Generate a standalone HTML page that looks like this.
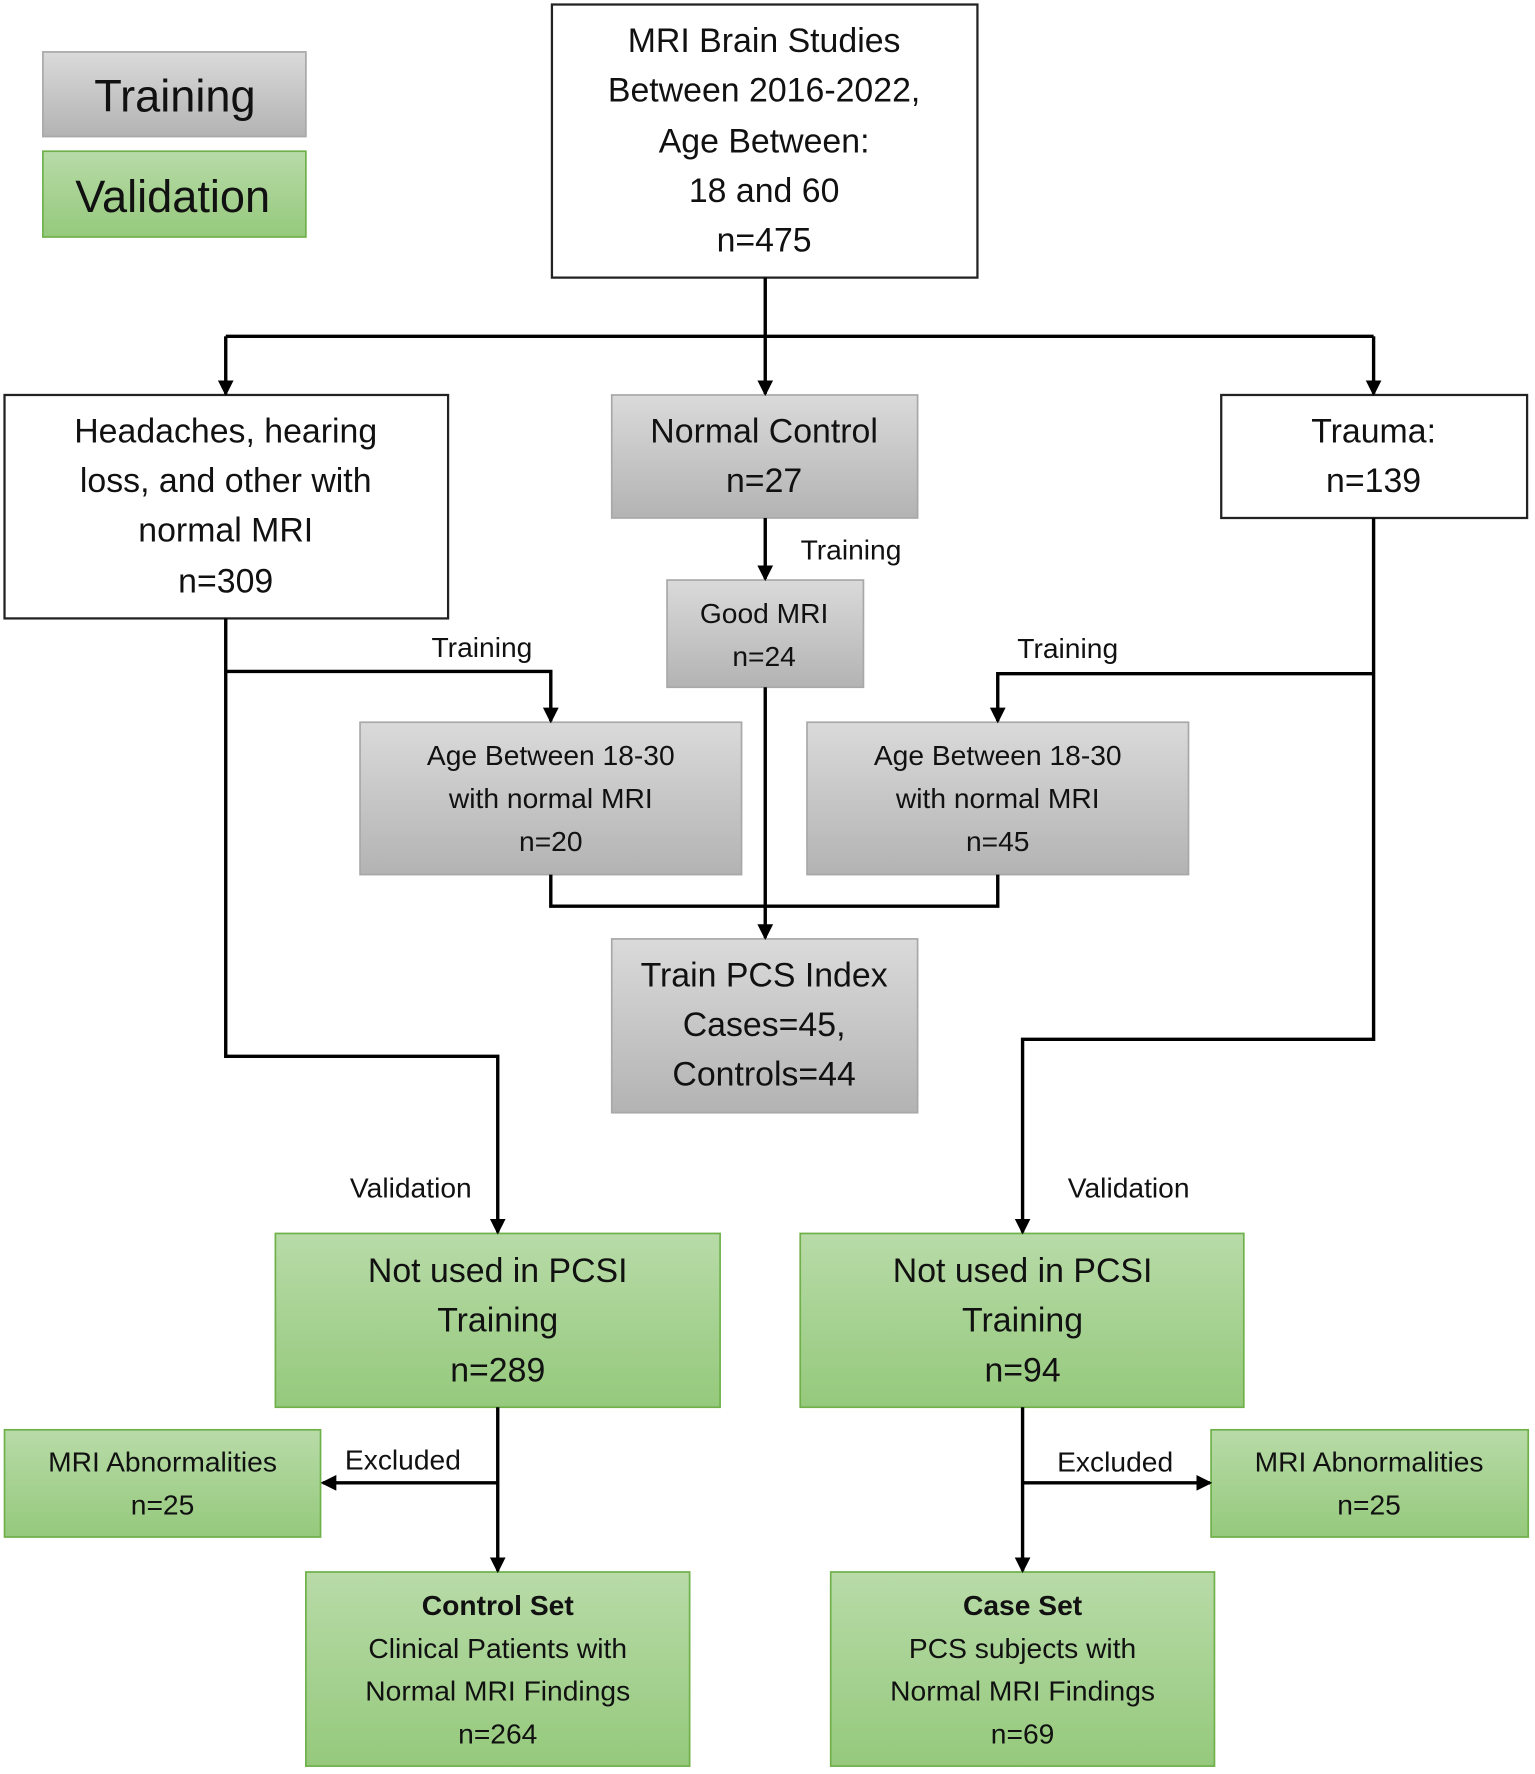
<!DOCTYPE html>
<html><head><meta charset="utf-8"><style>html,body{margin:0;padding:0;background:#fff}svg{display:block}</style></head><body>
<svg width="1535" height="1774" viewBox="0 0 1360 1572" preserveAspectRatio="none" xmlns="http://www.w3.org/2000/svg" font-family="Liberation Sans, sans-serif" text-anchor="middle">
<defs>
<linearGradient id="g" x1="0" y1="0" x2="0" y2="1"><stop offset="0" stop-color="#dadada"/><stop offset="1" stop-color="#b3b3b3"/></linearGradient>
<linearGradient id="v" x1="0" y1="0" x2="0" y2="1"><stop offset="0" stop-color="#b8dba8"/><stop offset="1" stop-color="#95c97c"/></linearGradient>
<marker id="a" markerWidth="14" markerHeight="14" refX="12" refY="7" orient="auto" markerUnits="userSpaceOnUse"><path d="M0,0 L14,7 L0,14z" fill="#000"/></marker>
</defs>
<g stroke-width="1.5">
<rect x="38" y="46" width="233" height="75" fill="url(#g)" stroke="#a8a8a8"/>
<rect x="38" y="134" width="233" height="76" fill="url(#v)" stroke="#6fb04a"/>
<rect x="489" y="4" width="377" height="242" fill="#fff" stroke="#222" stroke-width="2"/>
<rect x="4" y="350" width="393" height="198" fill="#fff" stroke="#222" stroke-width="2"/>
<rect x="542" y="350" width="271" height="109" fill="url(#g)" stroke="#a8a8a8"/>
<rect x="1082" y="350" width="271" height="109" fill="#fff" stroke="#222" stroke-width="2"/>
<rect x="591" y="514" width="174" height="95" fill="url(#g)" stroke="#a8a8a8"/>
<rect x="319" y="640" width="338" height="135" fill="url(#g)" stroke="#a8a8a8"/>
<rect x="715" y="640" width="338" height="135" fill="url(#g)" stroke="#a8a8a8"/>
<rect x="542" y="832" width="271" height="154" fill="url(#g)" stroke="#a8a8a8"/>
<rect x="244" y="1093" width="394" height="154" fill="url(#v)" stroke="#6fb04a"/>
<rect x="709" y="1093" width="393" height="154" fill="url(#v)" stroke="#6fb04a"/>
<rect x="4" y="1267" width="280" height="95" fill="url(#v)" stroke="#6fb04a"/>
<rect x="1073" y="1267" width="281" height="95" fill="url(#v)" stroke="#6fb04a"/>
<rect x="271" y="1393" width="340" height="172" fill="url(#v)" stroke="#6fb04a"/>
<rect x="736" y="1393" width="340" height="172" fill="url(#v)" stroke="#6fb04a"/>
</g>
<g fill="none" stroke="#000" stroke-width="3">
<path d="M678 246V349" marker-end="url(#a)"/>
<path d="M200 298H1217"/>
<path d="M200 298V349" marker-end="url(#a)"/>
<path d="M1217 298V349" marker-end="url(#a)"/>
<path d="M678 459V513" marker-end="url(#a)"/>
<path d="M200 548V936H441V1092" marker-end="url(#a)"/>
<path d="M200 595H488V639" marker-end="url(#a)"/>
<path d="M1217 459V921H906V1092" marker-end="url(#a)"/>
<path d="M1217 597H884V639" marker-end="url(#a)"/>
<path d="M488 775V803H884V775"/>
<path d="M678 609V831" marker-end="url(#a)"/>
<path d="M441 1247V1392" marker-end="url(#a)"/>
<path d="M441 1314H286" marker-end="url(#a)"/>
<path d="M906 1247V1392" marker-end="url(#a)"/>
<path d="M906 1314H1072" marker-end="url(#a)"/>
</g>
<g fill="#111">
<text x="155" y="99" font-size="40">Training</text>
<text x="153" y="188" font-size="40">Validation</text>
<g font-size="30">
<text x="677" y="46">MRI Brain Studies</text>
<text x="677" y="90">Between 2016-2022,</text>
<text x="677" y="135">Age Between:</text>
<text x="677" y="179">18 and 60</text>
<text x="677" y="223">n=475</text>
<text x="200" y="392">Headaches, hearing</text>
<text x="200" y="436">loss, and other with</text>
<text x="200" y="480">normal MRI</text>
<text x="200" y="525">n=309</text>
<text x="677" y="392">Normal Control</text>
<text x="677" y="436">n=27</text>
<text x="1217" y="392">Trauma:</text>
<text x="1217" y="436">n=139</text>
<text x="677" y="874">Train PCS Index</text>
<text x="677" y="918">Cases=45,</text>
<text x="677" y="962">Controls=44</text>
<text x="441" y="1136">Not used in PCSI</text>
<text x="441" y="1180">Training</text>
<text x="441" y="1224">n=289</text>
<text x="906" y="1136">Not used in PCSI</text>
<text x="906" y="1180">Training</text>
<text x="906" y="1224">n=94</text>
</g>
<g font-size="25">
<text x="677" y="552">Good MRI</text>
<text x="677" y="590">n=24</text>
<text x="488" y="678">Age Between 18-30</text>
<text x="488" y="716">with normal MRI</text>
<text x="488" y="754">n=20</text>
<text x="884" y="678">Age Between 18-30</text>
<text x="884" y="716">with normal MRI</text>
<text x="884" y="754">n=45</text>
<text x="144" y="1304">MRI Abnormalities</text>
<text x="144" y="1342">n=25</text>
<text x="1213" y="1304">MRI Abnormalities</text>
<text x="1213" y="1342">n=25</text>
<text x="441" y="1431" font-weight="bold">Control Set</text>
<text x="441" y="1469">Clinical Patients with</text>
<text x="441" y="1507">Normal MRI Findings</text>
<text x="441" y="1545">n=264</text>
<text x="906" y="1431" font-weight="bold">Case Set</text>
<text x="906" y="1469">PCS subjects with</text>
<text x="906" y="1507">Normal MRI Findings</text>
<text x="906" y="1545">n=69</text>
</g>
<g font-size="25">
<text x="754" y="496">Training</text>
<text x="427" y="582">Training</text>
<text x="946" y="583">Training</text>
<text x="364" y="1061">Validation</text>
<text x="1000" y="1061">Validation</text>
<text x="357" y="1302">Excluded</text>
<text x="988" y="1304">Excluded</text>
</g>
</g>
</svg>
</body></html>
